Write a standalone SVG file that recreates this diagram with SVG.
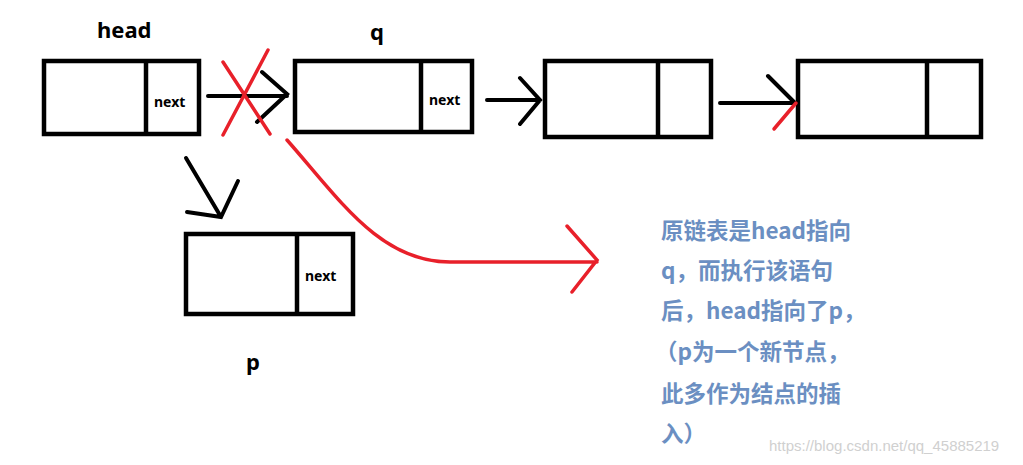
<svg xmlns="http://www.w3.org/2000/svg" width="1023" height="465" viewBox="0 0 1023 465">
<style>
.box{fill:#fff;stroke:#000;stroke-width:4.5}
.div{stroke:#000;stroke-width:4.5}
.k{stroke:#000;stroke-width:4;fill:none;stroke-linecap:round}
.r{stroke:#e8202a;stroke-width:3.5;fill:none;stroke-linecap:round}
.lbl{font-family:"Noto Sans","DejaVu Sans",sans-serif;font-weight:bold;fill:#000}
.nx{font-family:"Noto Sans","DejaVu Sans",sans-serif;font-weight:bold;font-size:14px;fill:#000}
.cn{font-family:"Noto Sans CJK SC",sans-serif;font-weight:bold;font-size:22.5px;fill:#6b8fc2}
</style>
<rect width="1023" height="465" fill="#fff"/>
<g id="head"><rect class="box" x="44" y="61" width="155" height="73"/><line class="div" x1="146" y1="61" x2="146" y2="134"/><text class="nx" x="154" y="107">next</text><text class="lbl" x="97" y="38" font-size="22">head</text></g>
<g id="q"><rect class="box" x="295" y="61" width="177" height="71"/><line class="div" x1="421" y1="61" x2="421" y2="132"/><text class="nx" x="429" y="105">next</text><text class="lbl" x="370" y="40" font-size="22">q</text></g>
<g id="n3"><rect class="box" x="545" y="61" width="166" height="76"/><line class="div" x1="658" y1="61" x2="658" y2="137"/></g>
<g id="n4"><rect class="box" x="798" y="61" width="183" height="76"/><line class="div" x1="927" y1="61" x2="927" y2="137"/></g>
<g id="p"><rect class="box" x="186" y="234" width="167" height="80"/><line class="div" x1="297" y1="234" x2="297" y2="314"/><text class="nx" x="305" y="281">next</text><text class="lbl" x="246" y="370" font-size="22">p</text></g>
<g id="connectors">
<path class="k" d="M208 96H287M262 72L287 94L257 122"/>
<path class="r" d="M223 62L270 134M268 50L223 135"/>
<path class="k" d="M487 100H540M520 78L540 100L520 124"/>
<path class="k" d="M720 103H795M768 76L795 103"/>
<path class="r" d="M796 103L774 129"/>
<path class="k" d="M186 158L221 217M238 181L221 217L187 212"/>
<path class="r" d="M287 140C340 200 380 262 450 262L597 262M567 226L597 260L572 292"/>
</g>
<g id="note">
<text class="cn" x="661" y="239">原链表是head指向</text>
<text class="cn" x="661" y="279">q，而执行该语句</text>
<text class="cn" x="661" y="319">后，head指向了p，</text>
<text class="cn" x="655" y="360">（p为一个新节点，</text>
<text class="cn" x="661" y="402">此多作为结点的插</text>
<text class="cn" x="661" y="442">入）</text>
<text x="769" y="451" font-family="Liberation Sans,sans-serif" font-size="15" fill="#d0d0d0">https://blog.csdn.net/qq_45885219</text>
</g>
</svg>
